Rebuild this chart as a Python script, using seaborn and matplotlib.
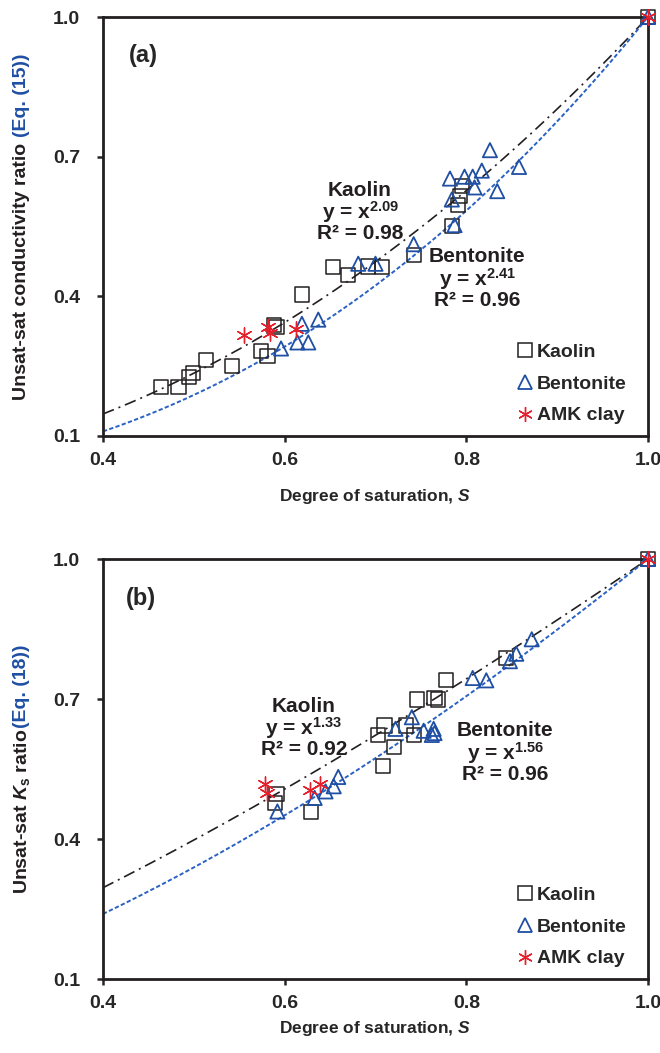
import numpy as np
import pandas as pd
import matplotlib
matplotlib.use("Agg")
import matplotlib.pyplot as plt
from matplotlib.lines import Line2D
import seaborn as sns

# --- data ---
# panel (a): Eq. (15)
kaolin_a_S = [0.464, 0.483, 0.495, 0.499, 0.513, 0.542, 0.574, 0.581, 0.588, 0.591,
              0.619, 0.653, 0.670, 0.692, 0.707, 0.742, 0.784, 0.791, 0.793, 0.795, 1.0]
kaolin_a_K = [0.206, 0.206, 0.226, 0.235, 0.263, 0.250, 0.282, 0.272, 0.338, 0.334,
              0.404, 0.463, 0.446, 0.464, 0.463, 0.489, 0.551, 0.597, 0.616, 0.637, 1.0]
bento_a_S = [0.596, 0.614, 0.619, 0.626, 0.637, 0.681, 0.700, 0.742, 0.782, 0.784,
             0.787, 0.798, 0.807, 0.809, 0.817, 0.826, 0.834, 0.858, 1.0]
bento_a_K = [0.288, 0.301, 0.341, 0.301, 0.350, 0.470, 0.470, 0.512, 0.653, 0.608,
             0.553, 0.657, 0.657, 0.634, 0.670, 0.714, 0.626, 0.678, 1.0]
amk_a_S = [0.555, 0.582, 0.584, 0.613, 1.0]
amk_a_K = [0.318, 0.334, 0.321, 0.330, 1.0]

# panel (b): Eq. (18)
kaolin_b_S = [0.589, 0.591, 0.629, 0.703, 0.708, 0.710, 0.720, 0.734, 0.742, 0.746,
              0.765, 0.769, 0.778, 0.844, 1.0]
kaolin_b_K = [0.477, 0.496, 0.458, 0.623, 0.557, 0.643, 0.597, 0.643, 0.623, 0.699,
              0.702, 0.699, 0.740, 0.788, 1.0]
bento_b_S = [0.592, 0.633, 0.645, 0.654, 0.659, 0.722, 0.740, 0.753, 0.762, 0.764,
             0.765, 0.807, 0.822, 0.848, 0.855, 0.872, 1.0]
bento_b_K = [0.459, 0.488, 0.502, 0.513, 0.533, 0.636, 0.661, 0.632, 0.623, 0.636,
             0.627, 0.745, 0.740, 0.781, 0.797, 0.828, 1.0]
amk_b_S = [0.578, 0.580, 0.628, 0.639, 1.0]
amk_b_K = [0.518, 0.499, 0.506, 0.517, 1.0]

# fitted exponents y = x^b and R^2
fit_exp_a = {"Kaolin": 2.09, "Bentonite": 2.41}
fit_r2_a = {"Kaolin": 0.98, "Bentonite": 0.96}
fit_exp_b = {"Kaolin": 1.33, "Bentonite": 1.56}
fit_r2_b = {"Kaolin": 0.92, "Bentonite": 0.96}

x_ticks = [0.4, 0.6, 0.8, 1.0]
y_ticks = [0.1, 0.4, 0.7, 1.0]

BLACK = "#231f20"
BLUE = "#1f4fa3"
BLUE_LINE = "#2a62c4"
RED = "#e4202c"

sns.set_style("ticks")
plt.rcParams["font.family"] = ["Liberation Sans", "DejaVu Sans"]
plt.rcParams["font.weight"] = "bold"
plt.rcParams["mathtext.fontset"] = "custom"
plt.rcParams["mathtext.rm"] = "Liberation Sans:bold"
plt.rcParams["mathtext.bf"] = "Liberation Sans:bold"
plt.rcParams["mathtext.it"] = "Liberation Sans:italic:bold"

fig = plt.figure(figsize=(6.6, 10.53), dpi=100)
ax_a = fig.add_axes([103 / 660, 1 - 436 / 1053, 545 / 660, 419 / 1053])
ax_b = fig.add_axes([103 / 660, 1 - 979 / 1053, 545 / 660, 420 / 1053])


def make_df(S, K, soil):
    return pd.DataFrame({"S": S, "K": K, "soil": soil})


def draw_panel(ax, kaolin, bento, amk, fit_exp, xlabelpad):
    xs = np.linspace(0.4, 1.0, 200)
    curves = pd.DataFrame({"S": xs,
                           "kaolin": xs ** fit_exp["Kaolin"],
                           "bento": xs ** fit_exp["Bentonite"]})
    sns.lineplot(data=curves, x="S", y="kaolin", ax=ax, color=BLACK, lw=1.2,
                 linestyle=(0, (7, 3, 1.2, 3)))
    sns.lineplot(data=curves, x="S", y="bento", ax=ax, color=BLUE_LINE, lw=1.4,
                 linestyle=(0, (2.2, 1.2)))

    sns.scatterplot(data=kaolin, x="S", y="K", ax=ax, marker="s", s=105,
                    facecolor="none", edgecolor=BLACK, linewidth=1.1,
                    clip_on=False, zorder=3, legend=False)
    sns.scatterplot(data=bento, x="S", y="K", ax=ax, marker="^", s=105,
                    facecolor="none", edgecolor=BLUE, linewidth=1.3,
                    clip_on=False, zorder=4, legend=False)
    sns.scatterplot(data=amk, x="S", y="K", ax=ax, marker=(6, 2, 0), s=120,
                    color=RED, linewidth=1.0, clip_on=False, zorder=5, legend=False)
    for coll in ax.collections[:2]:
        coll.set_facecolor("none")

    ax.set_xlim(0.4, 1.0)
    ax.set_ylim(0.1, 1.0)
    ax.set_xticks(x_ticks)
    ax.set_yticks(y_ticks)
    ax.set_xticklabels([f"{t:.1f}" for t in x_ticks])
    ax.set_yticklabels([f"{t:.1f}" for t in y_ticks])
    ax.tick_params(direction="out", length=4.5, width=1.8, labelsize=14)
    ax.tick_params(axis="x", pad=7)
    ax.tick_params(axis="y", pad=12)
    for sp in ax.spines.values():
        sp.set_linewidth(2.0)
        sp.set_color(BLACK)
        sp.set_visible(True)
    ax.set_xlabel("Degree of saturation, $S$", fontsize=12.5, fontweight="bold",
                  labelpad=xlabelpad)
    ax.set_ylabel("")

    handles = [
        Line2D([], [], ls="none", marker="s", ms=9.5, mfc="none", mec=BLACK, mew=1.1),
        Line2D([], [], ls="none", marker="^", ms=9.5, mfc="none", mec=BLUE, mew=1.3),
        Line2D([], [], ls="none", marker=(6, 2, 0), ms=10.5, color=RED, mew=1.0),
    ]
    ax.legend(handles, ["Kaolin", "Bentonite", "AMK clay"], loc="lower left",
              bbox_to_anchor=(0.732, 0.0), frameon=False, fontsize=14,
              handletextpad=0.0, handlelength=1.2, labelspacing=0.72,
              borderaxespad=0.2)


def fit_text(ax, x, y, name, b, r2):
    ax.text(x, y, f"{name}\ny = x$^{{{b:.2f}}}$\nR\u00b2 = {r2:.2f}", ha="center",
            va="center", fontsize=15, fontweight="bold", color=BLACK,
            linespacing=0.97)


def two_color_ylabel(ax, black_part, blue_part, xpos):
    t1 = ax.text(xpos, 0.0, black_part, rotation=90, transform=ax.transAxes,
                 ha="center", va="bottom", fontsize=14, fontweight="bold", color=BLACK)
    t2 = ax.annotate(blue_part, xy=(0.5, 1.0), xycoords=t1, rotation=90,
                     ha="center", va="bottom", fontsize=14, fontweight="bold",
                     color=BLUE)
    fig.canvas.draw()
    r = fig.canvas.get_renderer()
    b1 = t1.get_window_extent(r)
    b2 = t2.get_window_extent(r)
    total = b2.y1 - b1.y0
    axb = ax.get_window_extent(r)
    start = (axb.y0 + axb.y1) / 2 - total / 2
    t1.set_y((start - axb.y0) / axb.height)


draw_panel(ax_a, make_df(kaolin_a_S, kaolin_a_K, "Kaolin"),
           make_df(bento_a_S, bento_a_K, "Bentonite"),
           make_df(amk_a_S, amk_a_K, "AMK clay"), fit_exp_a, 13)
draw_panel(ax_b, make_df(kaolin_b_S, kaolin_b_K, "Kaolin"),
           make_df(bento_b_S, bento_b_K, "Bentonite"),
           make_df(amk_b_S, amk_b_K, "AMK clay"), fit_exp_b, 5)

fit_text(ax_a, 0.683, 0.581, "Kaolin", fit_exp_a["Kaolin"], fit_r2_a["Kaolin"])
fit_text(ax_a, 0.812, 0.438, "Bentonite", fit_exp_a["Bentonite"], fit_r2_a["Bentonite"])
fit_text(ax_b, 0.621, 0.638, "Kaolin", fit_exp_b["Kaolin"], fit_r2_b["Kaolin"])
fit_text(ax_b, 0.843, 0.585, "Bentonite", fit_exp_b["Bentonite"], fit_r2_b["Bentonite"])

ax_a.text(0.444, 0.918, "(a)", fontsize=17, fontweight="bold", ha="center", va="center")
ax_b.text(0.442, 0.916, "(b)", fontsize=17, fontweight="bold", ha="center", va="center")

two_color_ylabel(ax_a, "Unsat-sat conductivity ratio ", "(Eq. (15))", -0.149)
two_color_ylabel(ax_b, r"Unsat-sat $K_\mathrm{s}$ ratio ", "(Eq. (18))", -0.149)

fig.savefig("out.png", dpi=100, facecolor="white")
